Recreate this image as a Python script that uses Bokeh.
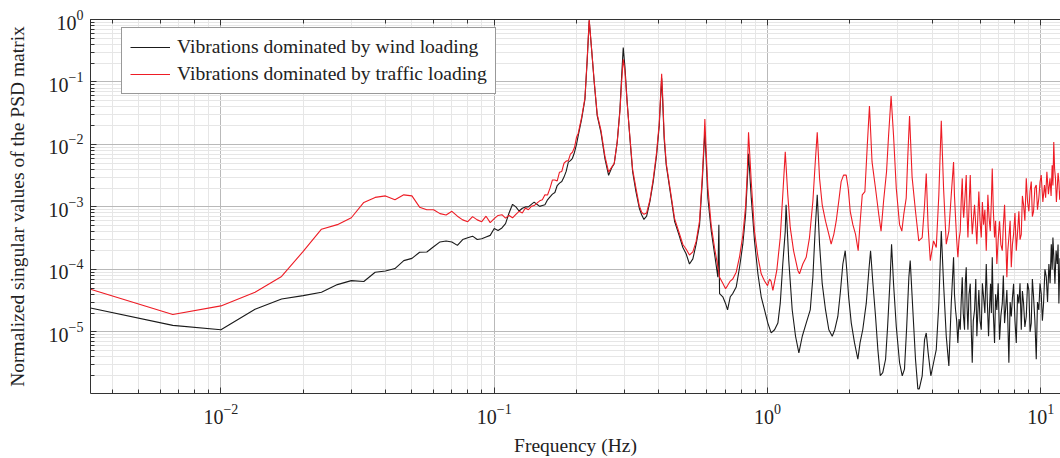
from bokeh.plotting import figure
from bokeh.models import LogAxis, Legend, LegendItem, LogTicker, CustomJSTickFormatter
from bokeh.embed import file_html
from bokeh.resources import INLINE

# ---------------- data ----------------
wind_freq = [
    0.003333, 0.006667, 0.01, 0.01333, 0.01667, 0.02, 0.02333, 0.02667, 0.03, 0.03333,
    0.03667, 0.04, 0.04333, 0.04667, 0.05, 0.05333, 0.05667, 0.06, 0.06333, 0.06667,
    0.07, 0.07333, 0.07667, 0.08, 0.08333, 0.08667, 0.09, 0.09333, 0.09667, 0.1,
    0.1033, 0.1067, 0.11, 0.1133, 0.1167, 0.12, 0.1233, 0.1267, 0.13, 0.1333,
    0.1367, 0.14, 0.1433, 0.1467, 0.15, 0.1533, 0.1567, 0.16, 0.1633, 0.1667,
    0.17, 0.1733, 0.1767, 0.18, 0.1833, 0.1867, 0.19, 0.1933, 0.1967, 0.2,
    0.2029, 0.2088, 0.2147, 0.2189, 0.2226, 0.2272, 0.2323, 0.2382, 0.2457, 0.2541,
    0.2621, 0.2688, 0.2748, 0.2818, 0.2884, 0.2925, 0.2965, 0.3007, 0.3066, 0.3137,
    0.3209, 0.33, 0.3393, 0.3462, 0.353, 0.3611, 0.3713, 0.3817, 0.3927, 0.4016,
    0.4068, 0.4098, 0.4133, 0.4187, 0.426, 0.444, 0.457, 0.4735, 0.49, 0.504,
    0.518, 0.533, 0.548, 0.564, 0.577, 0.585, 0.5897, 0.596, 0.605, 0.6223,
    0.64, 0.658, 0.6636, 0.6675, 0.686, 0.702, 0.714, 0.7304, 0.746, 0.768,
    0.79, 0.812, 0.831, 0.843, 0.852, 0.872, 0.896, 0.922, 0.948, 0.975,
    1.0025, 1.031, 1.061, 1.091, 1.113, 1.137, 1.161, 1.169, 1.196, 1.231,
    1.266, 1.302, 1.34, 1.385, 1.433, 1.465, 1.495, 1.52, 1.55, 1.585,
    1.63, 1.676, 1.725, 1.762, 1.808, 1.845, 1.886, 1.924, 1.95, 1.98,
    2.025, 2.081, 2.14, 2.18, 2.23, 2.297, 2.348, 2.382, 2.43, 2.484,
    2.533, 2.585, 2.64, 2.703, 2.75, 2.81, 2.843, 2.891, 2.958, 3.041,
    3.111, 3.17, 3.23, 3.289, 3.327, 3.401, 3.478, 3.548, 3.59, 3.68,
    3.754, 3.808, 3.87, 3.958, 4.05, 4.143, 4.234, 4.322, 4.406, 4.507,
    4.607, 4.701, 4.793, 4.83, 4.874, 4.92, 4.97, 5.02, 5.071, 5.11,
    5.157, 5.2, 5.258, 5.29, 5.333, 5.37, 5.41, 5.46, 5.517, 5.56,
    5.61, 5.66, 5.72, 5.78, 5.832, 5.88, 5.931, 5.99, 6.053, 6.11,
    6.171, 6.24, 6.313, 6.37, 6.436, 6.49, 6.545, 6.59, 6.64, 6.7,
    6.77, 6.83, 6.902, 6.98, 7.062, 7.14, 7.225, 7.29, 7.366, 7.44,
    7.51, 7.57, 7.638, 7.72, 7.795, 7.87, 7.947, 8.04, 8.13, 8.22,
    8.31, 8.39, 8.48, 8.56, 8.645, 8.74, 8.844, 8.94, 9.04, 9.13,
    9.224, 9.31, 9.404, 9.51, 9.62, 9.72, 9.83, 9.93, 10.03, 10.13,
    10.23, 10.35, 10.47, 10.58, 10.7, 10.81, 10.92, 11.0, 11.07, 11.16,
    11.26, 11.37, 11.48, 11.56, 11.64, 11.75, 11.8,
]
wind_psd = [
    2.4e-5, 1.27e-5, 1.08e-5, 2.3e-5, 3.35e-5, 3.8e-5, 4.3e-5, 5.7e-5, 6.6e-5, 6.4e-5,
    9.0e-5, 9.4e-5, 1.03e-4, 1.38e-4, 1.5e-4, 1.88e-4, 1.9e-4, 2.3e-4, 2.75e-4, 2.85e-4,
    2.75e-4, 2.42e-4, 3.0e-4, 3.2e-4, 3.4e-4, 3.0e-4, 3.1e-4, 3.3e-4, 3.5e-4, 4.5e-4,
    4.2e-4, 4.6e-4, 5.4e-4, 8.0e-4, 1.1e-3, 1.0e-3, 8.6e-4, 9.5e-4, 1.0e-3, 1.0e-3,
    1.1e-3, 1.19e-3, 1.1e-3, 1.02e-3, 1.05e-3, 1.08e-3, 1.3e-3, 1.45e-3, 1.6e-3, 1.7e-3,
    2.2e-3, 2.4e-3, 2.55e-3, 3.0e-3, 3.7e-3, 5.2e-3, 5.5e-3, 6.0e-3, 7.5e-3, 1.0e-2,
    0.0138, 0.0254, 0.0525, 0.225, 0.965, 0.324, 0.0964, 0.0286, 0.0156, 5.9e-3,
    3.2e-3, 4.2e-3, 4.9e-3, 0.0109, 0.0365, 0.1225, 0.357, 0.176, 0.0466, 0.0123,
    3.65e-3, 1.76e-3, 9.6e-4, 7.5e-4, 6.3e-4, 7.1e-4, 1.23e-3, 2.54e-3, 6.7e-3, 0.02,
    0.063, 0.115, 0.05, 0.012, 4.64e-3, 1.38e-3, 5.9e-4, 3.64e-4, 2.24e-4, 1.76e-4,
    1.22e-4, 1.47e-4, 2.53e-4, 5.2e-4, 2.54e-3, 8.5e-3, 0.0156, 6.0e-3, 1.38e-3, 4.12e-4,
    1.76e-4, 7.5e-5, 5.2e-4, 4.1e-5, 3.64e-5, 2.85e-5, 2.24e-5, 3.64e-5, 4.1e-5, 5.2e-5,
    1.08e-4, 2.53e-4, 7.5e-4, 2.54e-3, 7.1e-3, 1.38e-3, 2.86e-4, 8.5e-5, 3.64e-5, 2.24e-5,
    1.38e-5, 9.6e-6, 1.08e-5, 1.38e-5, 2.85e-5, 1.22e-4, 4.1e-4, 1.08e-3, 1.38e-4, 2.24e-5,
    8.5e-6, 4.6e-6, 8.5e-6, 1.38e-5, 2.24e-5, 7.5e-5, 4.65e-4, 1.56e-3, 2.53e-4, 5.9e-5,
    2.24e-5, 1.08e-5, 8.5e-6, 1.08e-5, 1.76e-5, 4.1e-5, 1.22e-4, 1.99e-4, 9.6e-5, 3.64e-5,
    1.38e-5, 6.65e-6, 3.64e-6, 6.65e-6, 1.08e-5, 2.85e-5, 9.6e-5, 1.99e-4, 5.9e-5, 1.76e-5,
    5.2e-6, 1.98e-6, 2.23e-6, 3.64e-6, 1.22e-5, 7.5e-5, 2.53e-4, 5.9e-5, 1.22e-5, 3.2e-6,
    1.98e-6, 2.53e-6, 1.22e-5, 7.5e-5, 1.38e-4, 2.24e-5, 3.64e-6, 1.22e-6, 1.22e-6, 1.98e-6,
    7.5e-6, 9.6e-6, 4.6e-6, 1.98e-6, 3.2e-6, 5.2e-6, 2.85e-5, 4.1e-4, 5.9e-5, 8.5e-6,
    2.85e-6, 2.85e-5, 1.56e-4, 4.0e-5, 2.24e-5, 1.5e-5, 6.65e-6, 1.6e-5, 1.08e-5, 3.0e-5,
    7.5e-5, 2.0e-5, 1.08e-5, 6.0e-5, 1.08e-4, 2.5e-5, 1.08e-5, 4.0e-5, 5.9e-5, 1.2e-5,
    3.2e-6, 1.5e-5, 2.24e-5, 7.0e-5, 8.5e-6, 2.0e-5, 4.65e-5, 1.5e-5, 1.08e-5, 6.0e-5,
    3.64e-5, 2.0e-5, 1.22e-4, 3.0e-5, 8.5e-6, 2.5e-5, 5.9e-5, 2.0e-5, 1.56e-4, 2.0e-5,
    6.65e-6, 4.0e-5, 2.24e-5, 6.0e-5, 7.5e-6, 1.8e-5, 2.85e-5, 8.0e-5, 1.38e-5, 2.5e-5,
    4.65e-5, 1.5e-5, 3.2e-6, 3.0e-5, 1.76e-5, 3.5e-5, 5.9e-5, 1.5e-5, 6.65e-6, 4.0e-5,
    2.85e-5, 6.0e-5, 1.08e-5, 4.5e-5, 2.85e-5, 1.2e-5, 1.76e-5, 6.0e-5, 4.65e-5, 1.0e-5,
    1.38e-5, 7.0e-5, 3.64e-5, 1.5e-5, 3.64e-6, 3.0e-5, 2.24e-5, 6.0e-5, 4.1e-5, 1.5e-5,
    2.85e-5, 1.0e-4, 7.5e-5, 3.0e-5, 1.22e-4, 6.0e-5, 2.53e-4, 1.0e-4, 3.23e-4, 1.5e-4,
    5.9e-5, 2.0e-4, 1.22e-4, 2.5e-4, 2.85e-5, 1.5e-4, 8.0e-5,
]

traffic_freq = [
    0.003333, 0.006667, 0.01, 0.01333, 0.01667, 0.02, 0.02333, 0.02667, 0.03, 0.03333,
    0.03667, 0.04, 0.04333, 0.04667, 0.05, 0.05333, 0.05667, 0.06, 0.06333, 0.06667,
    0.07, 0.07333, 0.07667, 0.08, 0.08333, 0.08667, 0.09, 0.09333, 0.09667, 0.1,
    0.1033, 0.1067, 0.11, 0.1133, 0.1167, 0.12, 0.1233, 0.1267, 0.13, 0.1333,
    0.1367, 0.14, 0.1433, 0.1467, 0.15, 0.1533, 0.1567, 0.16, 0.1633, 0.1667,
    0.17, 0.1733, 0.1767, 0.18, 0.1833, 0.1867, 0.19, 0.1933, 0.1967, 0.2,
    0.2029, 0.2088, 0.2147, 0.2189, 0.2226, 0.2272, 0.2323, 0.2382, 0.2457, 0.2541,
    0.2621, 0.2688, 0.2748, 0.2818, 0.2884, 0.2925, 0.2965, 0.3007, 0.3066, 0.3137,
    0.3209, 0.33, 0.3393, 0.3462, 0.353, 0.3611, 0.3713, 0.3817, 0.3927, 0.4016,
    0.4068, 0.4098, 0.4133, 0.4187, 0.426, 0.444, 0.457, 0.4735, 0.49, 0.504,
    0.518, 0.533, 0.548, 0.564, 0.577, 0.585, 0.5897, 0.596, 0.605, 0.6223,
    0.64, 0.658, 0.6675, 0.686, 0.702, 0.714, 0.7304, 0.746, 0.768, 0.79,
    0.812, 0.831, 0.843, 0.852, 0.872, 0.896, 0.922, 0.948, 0.975, 1.0,
    1.017, 1.03, 1.046, 1.081, 1.113, 1.137, 1.161, 1.186, 1.211, 1.245,
    1.291, 1.309, 1.346, 1.385, 1.424, 1.465, 1.495, 1.52, 1.55, 1.585,
    1.63, 1.676, 1.709, 1.748, 1.783, 1.822, 1.859, 1.897, 1.94, 1.973,
    2.007, 2.052, 2.099, 2.146, 2.183, 2.221, 2.271, 2.317, 2.36, 2.412,
    2.483, 2.553, 2.602, 2.658, 2.725, 2.772, 2.832, 2.891, 2.958, 3.041,
    3.1, 3.15, 3.216, 3.261, 3.308, 3.38, 3.478, 3.575, 3.68, 3.754,
    3.808, 3.87, 3.94, 4.05, 4.143, 4.234, 4.322, 4.406, 4.507, 4.607,
    4.701, 4.793, 4.83, 4.874, 4.92, 4.97, 5.02, 5.071, 5.11, 5.157,
    5.19, 5.22, 5.28, 5.333, 5.37, 5.41, 5.46, 5.517, 5.56, 5.61,
    5.66, 5.72, 5.78, 5.832, 5.88, 5.931, 5.99, 6.053, 6.11, 6.171,
    6.24, 6.313, 6.36, 6.4, 6.46, 6.53, 6.59, 6.64, 6.7, 6.77,
    6.83, 6.902, 6.98, 7.062, 7.14, 7.225, 7.29, 7.366, 7.44, 7.51,
    7.57, 7.638, 7.72, 7.795, 7.87, 7.947, 8.04, 8.13, 8.22, 8.31,
    8.39, 8.48, 8.56, 8.645, 8.74, 8.844, 8.94, 9.04, 9.13, 9.224,
    9.31, 9.404, 9.51, 9.62, 9.72, 9.83, 9.93, 10.03, 10.17, 10.31,
    10.41, 10.52, 10.66, 10.8, 10.9, 11.0, 11.07, 11.15, 11.23, 11.31,
    11.4, 11.48, 11.56, 11.64, 11.72, 11.8,
]
traffic_psd = [
    4.8e-5, 1.9e-5, 2.6e-5, 4.3e-5, 7.7e-5, 1.94e-4, 4.4e-4, 5.2e-4, 6.7e-4, 1.18e-3,
    1.42e-3, 1.5e-3, 1.3e-3, 1.56e-3, 1.5e-3, 9.9e-4, 9.0e-4, 9.0e-4, 7.8e-4, 7.4e-4,
    8.5e-4, 7.1e-4, 6.2e-4, 5.8e-4, 7.0e-4, 6.2e-4, 5.8e-4, 7.1e-4, 5.6e-4, 6.5e-4,
    7.3e-4, 7.5e-4, 6.6e-4, 7.3e-4, 6.7e-4, 7.6e-4, 8.5e-4, 8.0e-4, 9.6e-4, 9.0e-4,
    1.02e-3, 1.05e-3, 1.15e-3, 1.25e-3, 1.3e-3, 1.56e-3, 1.55e-3, 2.0e-3, 2.7e-3, 2.7e-3,
    2.6e-3, 3.6e-3, 3.7e-3, 5.0e-3, 5.4e-3, 5.5e-3, 7.0e-3, 7.5e-3, 9.0e-3, 0.013,
    0.015, 0.027, 0.055, 0.24, 1.0, 0.33, 0.1, 0.03, 0.017, 6.5e-3,
    3.6e-3, 4.3e-3, 5.0e-3, 0.011, 0.034, 0.1, 0.23, 0.15, 0.045, 0.013,
    4.0e-3, 2.0e-3, 1.05e-3, 8.2e-4, 7.6e-4, 8.0e-4, 1.3e-3, 2.8e-3, 7.5e-3, 0.022,
    0.07, 0.135, 0.06, 0.014, 5.0e-3, 1.5e-3, 6.5e-4, 4.0e-4, 2.5e-4, 2.1e-4,
    1.7e-4, 1.9e-4, 2.8e-4, 6.0e-4, 3.0e-3, 0.01, 0.0254, 8.0e-3, 2.0e-3, 5.0e-4,
    2.2e-4, 1.1e-4, 7.5e-5, 6.0e-5, 4.9e-5, 5.5e-5, 6.5e-5, 7.0e-5, 9.0e-5, 1.6e-4,
    3.5e-4, 1.0e-3, 3.5e-3, 0.0156, 2.5e-3, 4.0e-4, 1.6e-4, 8.5e-5, 6.5e-5, 5.5e-5,
    7.0e-5, 6.5e-5, 4.6e-5, 9.6e-5, 3.23e-4, 1.56e-3, 7.6e-3, 1.56e-3, 4.65e-4, 1.99e-4,
    9.6e-5, 8.5e-5, 1.22e-4, 1.56e-4, 3.23e-4, 1.23e-3, 5.25e-3, 0.0156, 2.86e-3, 1.08e-3,
    5.9e-4, 3.64e-4, 2.53e-4, 3.64e-4, 5.9e-4, 1.23e-3, 2.54e-3, 3.23e-3, 3.23e-3, 1.99e-3,
    8.5e-4, 5.2e-4, 3.64e-4, 1.99e-4, 5.9e-4, 1.56e-3, 1.76e-3, 9.6e-3, 0.0411, 5.25e-3,
    1.99e-3, 7.5e-4, 4.1e-4, 1.23e-3, 3.65e-3, 0.0138, 0.0593, 0.0138, 1.99e-3, 5.2e-4,
    4.1e-4, 7.5e-4, 1.38e-3, 6.7e-3, 0.0286, 3.0e-3, 8.5e-4, 2.86e-4, 3.23e-4, 1.08e-3,
    3.43e-3, 4.65e-4, 1.38e-4, 2.86e-4, 2.24e-4, 1.56e-3, 0.0239, 1.99e-3, 2.53e-4, 4.1e-4,
    1.56e-3, 5.25e-3, 1.5e-3, 6.7e-4, 3.0e-4, 1.56e-4, 3.0e-4, 4.1e-4, 1.2e-3, 2.86e-3,
    1.0e-3, 6.7e-4, 1.5e-3, 3.23e-3, 8.0e-4, 3.23e-4, 1.0e-3, 3.23e-3, 9.0e-4, 3.64e-4,
    6.0e-4, 1.08e-3, 5.0e-4, 2.53e-4, 7.0e-4, 1.76e-3, 6.0e-4, 3.23e-4, 1.2e-3, 5.2e-4,
    9.0e-4, 1.99e-4, 6.0e-4, 1.56e-3, 7.0e-4, 4.1e-4, 1.2e-3, 4.12e-3, 9.0e-4, 3.23e-4,
    6.0e-4, 1.22e-4, 3.0e-4, 5.9e-4, 2.5e-4, 1.99e-4, 5.0e-4, 1.08e-3, 3.0e-4, 7.5e-5,
    2.0e-4, 3.23e-4, 6.0e-4, 1.08e-4, 2.5e-4, 3.64e-4, 8.0e-4, 1.99e-4, 4.0e-4, 8.5e-4,
    3.0e-4, 3.64e-4, 1.5e-3, 1.08e-3, 6.0e-4, 2.86e-3, 1.2e-3, 8.5e-4, 1.8e-3, 2.54e-3,
    7.0e-4, 8.5e-4, 2.0e-3, 2.24e-3, 9.0e-4, 1.38e-3, 2.5e-3, 3.23e-3, 1.2e-3, 2.24e-3,
    1.4e-3, 3.65e-3, 1.6e-3, 2.86e-3, 1.5e-3, 4.64e-3, 2.2e-3, 0.0109, 4.0e-3, 2.86e-3,
    1.2e-3, 1.99e-3, 3.5e-3, 2.54e-3, 1.3e-3, 1.8e-3,
]

x_label = "Frequency (Hz)"
y_label = "Normalized singular values of the PSD matrix"
series_labels = ["Vibrations dominated by wind loading",
                 "Vibrations dominated by traffic loading"]

# ---------------- figure ----------------
FONT = "Liberation Serif"
p = figure(width=1060, height=458, x_axis_type="log", y_axis_type="log",
           x_range=(0.003333, 11.8), y_range=(1.03e-6, 1.0),
           output_backend="svg", toolbar_location=None,
           min_border_left=90, min_border_right=0, min_border_top=19, min_border_bottom=60)
p.outline_line_color = None
p.background_fill_color = "white"
p.border_fill_color = "white"

l_wind = p.line(wind_freq, wind_psd, line_color="#1a1a1a", line_width=1.1)
l_traffic = p.line(traffic_freq, traffic_psd, line_color="#ee1c25", line_width=1.1)

for ax in (p.xaxis[0], p.yaxis[0]):
    ax.axis_line_color = "#333333"
    ax.major_tick_in = 6
    ax.major_tick_out = 0
    ax.minor_tick_in = 4
    ax.minor_tick_out = 0
    ax.major_tick_line_color = "#333333"
    ax.minor_tick_line_color = "#333333"
    ax.major_label_text_font = FONT
    ax.major_label_text_font_size = "20px"
    ax.major_label_text_color = "#222222"
    ax.axis_label_text_font = FONT
    ax.axis_label_text_font_size = "19.5px"
    ax.axis_label_text_font_style = "normal"
    ax.axis_label_text_color = "#222222"

p.xaxis.axis_label = x_label
p.yaxis.axis_label = y_label
p.xaxis.major_label_standoff = 10
p.xaxis.axis_label_standoff = 8
p.yaxis.major_label_standoff = 7
p.yaxis.axis_label_standoff = 18

top_axis = LogAxis(ticker=LogTicker(), axis_line_color="#333333",
                   formatter=CustomJSTickFormatter(code="return ''"),
                   major_tick_in=6, major_tick_out=0, minor_tick_in=4, minor_tick_out=0,
                   major_label_standoff=0,
                   major_tick_line_color="#333333", minor_tick_line_color="#333333")
p.add_layout(top_axis, "above")

p.xgrid.grid_line_color = "#b9b9b9"
p.ygrid.grid_line_color = "#b9b9b9"
p.xgrid.minor_grid_line_color = "#e6e6e6"
p.ygrid.minor_grid_line_color = "#e6e6e6"
p.xgrid.grid_line_width = 1
p.ygrid.grid_line_width = 1

legend = Legend(items=[LegendItem(label=series_labels[0], renderers=[l_wind]),
                       LegendItem(label=series_labels[1], renderers=[l_traffic])],
                location=(31, 299))
legend.label_text_font = FONT
legend.label_text_font_size = "19.6px"
legend.label_text_color = "#222222"
legend.border_line_color = "#333333"
legend.border_line_width = 1
legend.background_fill_alpha = 1.0
legend.glyph_width = 40
legend.glyph_height = 22
legend.label_height = 22
legend.label_standoff = 7
legend.padding = 8
legend.spacing = 5
legend.margin = 0
p.add_layout(legend, "center")

open("out.html", "w").write(file_html(p, INLINE))
